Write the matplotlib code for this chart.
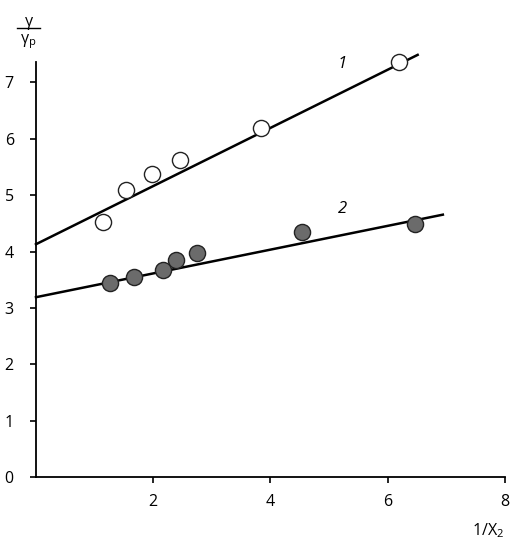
import numpy as np
import matplotlib
matplotlib.use('Agg')
import matplotlib.pyplot as plt

plt.rcParams['font.family'] = ['Open Sans', 'DejaVu Sans']
plt.rcParams['mathtext.default'] = 'regular'

# series 1 (open circles)
x1 = [1.14, 1.54, 1.98, 2.45, 3.84, 6.20]
y1 = [4.53, 5.09, 5.37, 5.62, 6.19, 7.37]
# series 2 (filled circles)
x2 = [1.27, 1.67, 2.17, 2.38, 2.74, 4.54, 6.47]
y2 = [3.45, 3.55, 3.68, 3.85, 3.98, 4.35, 4.49]
# fitted lines: (x start, x end), intercept, slope
fit1 = (0.0, 6.51, 4.13, 0.516)
fit2 = (0.0, 6.94, 3.19, 0.211)

fig = plt.figure(figsize=(5.14, 5.5), dpi=100)
ax = fig.add_axes([0.070, 0.1327, 0.9125, 0.7543])

for x0, xe, b, k in (fit1, fit2):
    xx = np.array([x0, xe])
    ax.plot(xx, b + k * xx, color='black', lw=1.8, zorder=2, clip_on=False)

ax.scatter(x1, y1, s=135, facecolor='white', edgecolor='#222222', lw=1.0, zorder=3, clip_on=False)
ax.scatter(x2, y2, s=135, facecolor='#6b6b6b', edgecolor='#222222', lw=1.0, zorder=3, clip_on=False)

ax.text(5.23, 7.32, '1', fontsize=12, style='italic', ha='center', va='center')
ax.text(5.22, 4.76, '2', fontsize=12, style='italic', ha='center', va='center')

ax.set_xlim(0, 8)
ax.set_ylim(0, 7.36)
ax.set_xticks([2, 4, 6, 8])
ax.set_yticks(range(0, 8))
for s in ('top', 'right'):
    ax.spines[s].set_visible(False)
for s in ('left', 'bottom'):
    ax.spines[s].set_linewidth(1.3)
ax.tick_params(axis='both', direction='out', length=4, width=1.2, labelsize=11.5, pad=8)
ax.tick_params(axis='y', pad=12)

# axis labels
fig.text(0.95, 0.035, '1/X$_2$', fontsize=11.5, ha='center', va='center')
fig.text(0.056, 0.960, 'γ', fontsize=11.5, ha='center', va='center')
fig.text(0.056, 0.925, 'γ$_p$', fontsize=11.5, ha='center', va='center')
fig.add_artist(plt.Line2D([0.033, 0.078], [0.949, 0.949], color='black', lw=1.0))

fig.savefig('out.png', dpi=100)
